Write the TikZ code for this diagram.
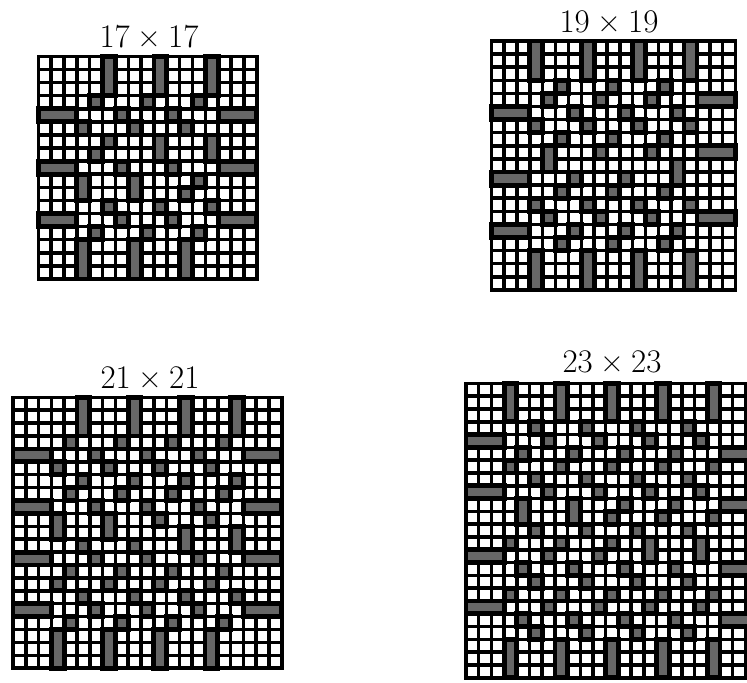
\documentclass[tikz,border=0pt]{standalone}
\tikzset{
  gridline/.style={line width=1.75pt, line cap=rect},
  marked/.style={fill=black!60, draw=black, line width=2.4pt},
  boardlabel/.style={font=\fontsize{16.5}{19}\selectfont, inner sep=0pt},
}
% one square board of #1 x #1 cells
\newcommand{\boardgrid}[1]{%
  \foreach \i in {0,...,#1} {
    \draw[gridline] (0,\i) -- (#1,\i);
    \draw[gridline] (\i,0) -- (\i,#1);
  }}
% block of marked cells, rows #1..#3, columns #2..#4
\newcommand{\cellblock}[4]{\draw[marked] (#2,#1) rectangle ({#4+1},{#3+1});}
% single cells in row #1 at the columns #2
\newcommand{\singles}[2]{\foreach \col in {#2} {\cellblock{#1}{\col}{#1}{\col}}}
% vertical bars over rows #1..#2 at the columns #3
\newcommand{\vbars}[3]{\foreach \col in {#3} {\cellblock{#1}{\col}{#2}{\col}}}
% horizontal bars over columns #1..#2 in the rows #3
\newcommand{\hbars}[3]{\foreach \row in {#3} {\cellblock{\row}{#1}{\row}{#2}}}
\newcommand{\boardname}[1]{#1\kern0.22em×\kern0.22em#1}

\begin{document}
\begin{tikzpicture}[x=0.5pt, y=-0.5pt]
  \useasboundingbox (0,0) rectangle (747,682);
  \fill[white] (0,0) rectangle (747,682);
  \clip (0,0) rectangle (747,682);

  % 17 x 17
  \node[boardlabel] (lab17) at (149,37) {\boardname{17}};
  \begin{scope}[shift={(38.3,56.4)}, x=6.425pt, y=-6.545pt]
    \boardgrid{17}
    \vbars{0}{2}{5,9,13}
    \vbars{14}{16}{3,7,11}
    \hbars{0}{2}{4,8,12}
    \hbars{14}{16}{4,8,12}
    \vbars{6}{7}{9,13}
    \vbars{9}{10}{3,7}
    \singles{3}{4,8,12}
    \singles{4}{6,10}
    \singles{5}{3,7,11}
    \singles{6}{5}
    \singles{7}{4}
    \singles{8}{6,10}
    \singles{9}{12}
    \singles{10}{11}
    \singles{11}{5,9,13}
    \singles{12}{6,10}
    \singles{13}{4,8,12}
  \end{scope}

  % 19 x 19
  \node[boardlabel] (lab19) at (609,22) {\boardname{19}};
  \begin{scope}[shift={(491.3,41)}, x=6.425pt, y=-6.55pt]
    \boardgrid{19}
    \vbars{0}{2}{3,7,11,15}
    \vbars{16}{18}{3,7,11,15}
    \hbars{0}{2}{5,10,14}
    \hbars{16}{18}{4,8,13}
    \vbars{8}{9}{4}
    \vbars{9}{10}{14}
    \singles{3}{5,9,13}
    \singles{4}{4,8,12}
    \singles{5}{6,10,14}
    \singles{6}{3,7,11,15}
    \singles{7}{5,9,13}
    \singles{8}{8,12}
    \singles{10}{6,10}
    \singles{11}{5,9,13}
    \singles{12}{3,7,11,15}
    \singles{13}{4,8,12}
    \singles{14}{6,10,14}
    \singles{15}{5,9,13}
  \end{scope}

  % 21 x 21
  \node[boardlabel] (lab21) at (150,378) {\boardname{21}};
  \begin{scope}[shift={(13,397.3)}, x=6.4pt, y=-6.45pt]
    \boardgrid{21}
    \vbars{0}{2}{5,9,13,17}
    \vbars{18}{20}{3,7,11,15}
    \hbars{0}{2}{4,8,12,16}
    \hbars{18}{20}{4,8,12,16}
    \vbars{9}{10}{3,7}
    \vbars{10}{11}{13,17}
    \singles{3}{4,8,12,16}
    \singles{4}{6,10,14}
    \singles{5}{3,7,11,15}
    \singles{6}{5,9,13,17}
    \singles{7}{4,8,12,16}
    \singles{8}{6,10,14}
    \singles{9}{11,15}
    \singles{11}{5,9}
    \singles{12}{6,10,14}
    \singles{13}{4,8,12,16}
    \singles{14}{3,7,11,15}
    \singles{15}{5,9,13,17}
    \singles{16}{6,10,14}
    \singles{17}{4,8,12,16}
  \end{scope}

  % 23 x 23, cut by the right edge
  \node[boardlabel] (lab23) at (612,362) {\boardname{23}};
  \begin{scope}[shift={(466,383.4)}, x=6.35pt, y=-6.4pt]
    \boardgrid{23}
    \vbars{0}{2}{3,7,11,15,19}
    \vbars{20}{22}{3,7,11,15,19}
    \hbars{0}{2}{4,8,13,17}
    \hbars{20}{22}{5,9,14,18}
    \vbars{9}{10}{4,8}
    \vbars{12}{13}{14,18}
    \singles{3}{5,9,13,17}
    \singles{4}{6,10,14,18}
    \singles{5}{4,8,12,16}
    \singles{6}{3,7,11,15,19}
    \singles{7}{5,9,13,17}
    \singles{8}{6,10,14,18}
    \singles{9}{12,16}
    \singles{10}{11,15,19}
    \singles{11}{5,9,13,17}
    \singles{12}{3,7,11}
    \singles{13}{6,10}
    \singles{14}{4,8,12,16}
    \singles{15}{5,9,13,17}
    \singles{16}{3,7,11,15,19}
    \singles{17}{6,10,14,18}
    \singles{18}{4,8,12,16}
    \singles{19}{5,9,13,17}
  \end{scope}
\end{tikzpicture}
\end{document}
